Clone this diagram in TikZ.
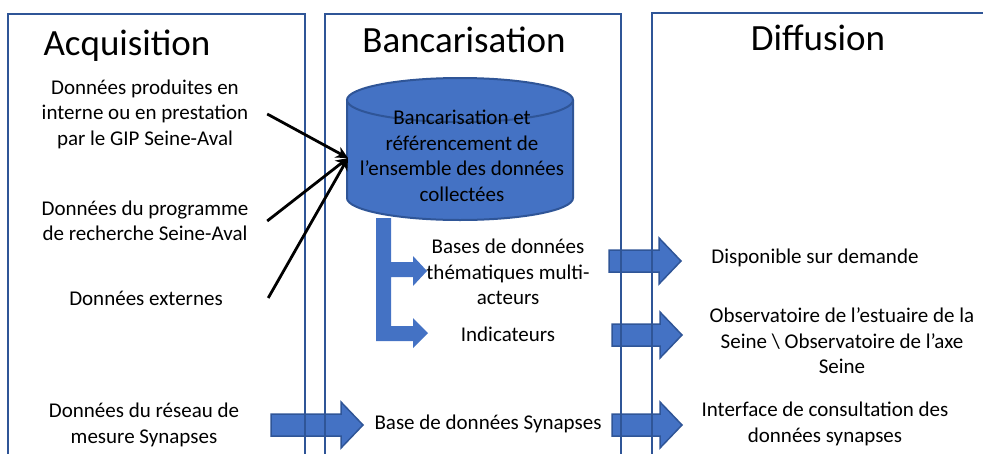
\documentclass[tikz,border=0pt]{standalone}
\usepackage{fontspec}
\setmainfont{Carlito}
\usetikzlibrary{arrows.meta, calc}
\definecolor{officeblue}{HTML}{4472C4}
\definecolor{darkblue}{HTML}{2F5597}
\tikzstyle{panel}=[draw=darkblue, line width=2.5pt]
\tikzstyle{heading}=[font=\fontsize{37}{44}\selectfont, anchor=base, inner sep=0pt]
\tikzstyle{txt}=[font=\fontsize{21}{25.5}\selectfont, align=flush center, inner sep=0pt]
\tikzstyle{feed}=[->, >={Stealth[length=12pt, width=12pt]}, line width=2.8pt]
\tikzstyle{blockarrow}=[fill=officeblue, draw=darkblue, line width=1.5pt]
\newcommand{\barrow}[2]{\path[blockarrow] let \p1=(#1), \p2=(#2) in
  (\x1,\y2+11pt) -- (\x2-22pt,\y2+11pt) -- (\x2-22pt,\y2+23pt) -- (\x2,\y2)
  -- (\x2-22pt,\y2-23pt) -- (\x2-22pt,\y2-11pt) -- (\x1,\y2-11pt) -- cycle;}

\begin{document}
\begin{tikzpicture}[x=1pt, y=-1pt]
  \clip (0,0) rectangle (983,453);
  \coordinate (synA) at (271,425);
  \coordinate (synB) at (363,425);
  \coordinate (dA1) at (609,261);
  \coordinate (dB1) at (681,261);
  \coordinate (dA2) at (612,335);
  \coordinate (dB2) at (682,335);
  \coordinate (dA3) at (612,425);
  \coordinate (dB3) at (682,425);
  \barrow{synA}{synB}
  \barrow{dA1}{dB1}
  \barrow{dA2}{dB2}
  \barrow{dA3}{dB3}
  \fill[officeblue] (376,218) -- (391,218) -- (391,262) -- (413,262) -- (413,256)
    -- (427,271) -- (413,286) -- (413,277) -- (391,277) -- (391,326) -- (413,326)
    -- (413,318) -- (428,333) -- (413,348) -- (413,341) -- (376,341) -- cycle;
  % panels
  \draw[panel] (8,14) rectangle (305,480);
  \draw[panel] (325,14) rectangle (621,480);
  \draw[panel] (652,13) rectangle (1000,480);
  % cylinder
  \fill[officeblue] (347,100) rectangle (573,198);
  \fill[officeblue] (460,198) ellipse [x radius=113, y radius=22];
  \draw[darkblue, line width=2pt] (347,100) -- (347,198)
    arc[start angle=180, end angle=0, x radius=113, y radius=22] -- (573,100);
  \draw[darkblue, line width=2pt, fill=officeblue] (460,100) ellipse [x radius=113, y radius=22];
  \coordinate (bankin) at (348,158);
  \node[txt] (bank) at (462,156) {Bancarisation et\\référencement de\\l’ensemble des données\\collectées};
  \node[heading] (acq) at (127,55) {Acquisition};
  \node[heading] (banc) at (464,52) {Bancarisation};
  \node[heading] (diff) at (818,50) {Diffusion};
  \node[txt, text width=244] (prod) at (145,114) {Données produites en\\interne ou en prestation\\par le GIP Seine-Aval};
  \node[txt, text width=244] (prog) at (145,221) {Données du programme\\de recherche Seine-Aval};
  \node[txt, text width=244] (ext) at (146,298) {Données externes};
  \node[txt] (reseau) at (144,425) {Données du réseau de\\mesure Synapses};
  \node[txt] (theme) at (508,272) {Bases de données\\thématiques multi-\\acteurs};
  \node[txt] (indic) at (508,334) {Indicateurs};
  \node[txt] (synbase) at (488,424) {Base de données Synapses};
  \node[txt] (dispo) at (815,258) {Disponible sur demande};
  \node[txt] (obs) at (842,341) {Observatoire de l’estuaire de la\\Seine \textbackslash\ Observatoire de l’axe\\Seine};
  \node[txt] (interf) at (825,424) {Interface de consultation des\\données synapses};
  \draw[feed] (prod.east) -- (bankin);
  \draw[feed] (prog.east) -- (bankin);
  \draw[feed] (ext.east) -- (bankin);
\end{tikzpicture}
\end{document}
